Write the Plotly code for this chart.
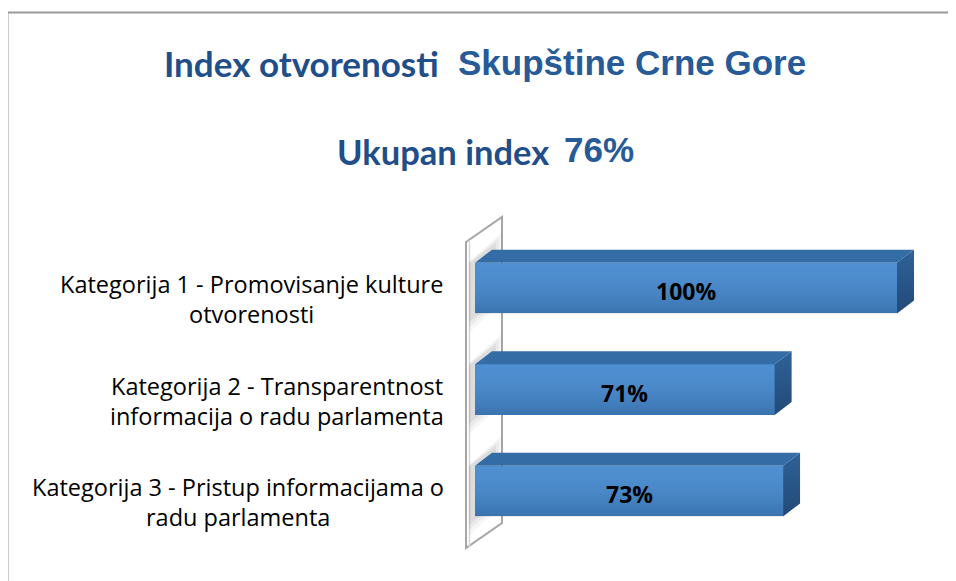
import plotly.graph_objects as go

# ---- data ----
categories = [
    "Kategorija 1 - Promovisanje kulture<br>otvorenosti",
    "Kategorija 2 - Transparentnost<br>informacija o radu parlamenta",
    "Kategorija 3 - Pristup informacijama o<br>radu parlamenta",
]
values = [1.00, 0.71, 0.73]
value_labels = ["100%", "71%", "73%"]
title_line1_a = "Index otvorenosti"
title_line1_b = "Skupštine Crne Gore"
title_line2_a = "Ukupan index"
title_line2_b = "76%"

# ---- layout geometry ----
OFF = 8                          # page body margin
W, H = 956 - OFF, 581 - OFF      # figure size


def fx(px):                      # page pixel -> figure pixel
    return px - OFF


X0_PX, X1_PX = fx(475), fx(897)  # pixel of 0 % and 100 %
Y0_PX, DY_PX = fx(288), 101.5    # pixel of first category centre, spacing
PXX = X1_PX - X0_PX
xr = [-X0_PX / PXX, (W - X0_PX) / PXX]
yr = [(H - Y0_PX) / DY_PX, -Y0_PX / DY_PX]

bw = 0.50                        # bar thickness (category units)
DX_PX, DY3_PX = 17, -13          # 3-D depth offset in pixels
dx = DX_PX / PXX
dy = DY3_PX / DY_PX

CAL = "Lato"
LAB = "Open Sans"
ARI = "Liberation Sans"
BLUE1 = "#1F4E89"
BLUE2 = "#275B98"

fig = go.Figure()
ys = list(range(len(categories)))

# front faces (bars)
fig.add_trace(go.Bar(
    x=values, y=ys, orientation="h", width=bw,
    marker=dict(color="#4388CF", line=dict(width=0)),
    hoverinfo="skip", showlegend=False,
))

for i, v in enumerate(values):
    top = i - bw / 2
    bot = i + bw / 2
    fig.add_trace(go.Scatter(
        x=[0, v, v, 0, 0], y=[top, top, bot, bot, top],
        mode="lines", line=dict(width=0), fill="toself",
        fillgradient=dict(type="vertical", start=top, stop=bot,
                          colorscale=[[0, "rgba(255,255,255,0.06)"],
                                      [1, "rgba(0,0,0,0.15)"]]),
        hoverinfo="skip", showlegend=False,
    ))
    fig.add_trace(go.Scatter(
        x=[0, v, v + dx, dx, 0], y=[top, top, top + dy, top + dy, top],
        mode="lines", line=dict(width=0), fill="toself",
        fillcolor="#346DA6", hoverinfo="skip", showlegend=False,
    ))
    fig.add_trace(go.Scatter(
        x=[v, v + dx, v + dx, v, v], y=[top, top + dy, bot + dy, bot, top],
        mode="lines", line=dict(width=0), fill="toself",
        fillgradient=dict(type="vertical", start=top + dy, stop=bot,
                          colorscale=[[0, "#2F6298"], [1, "#224A77"]]),
        hoverinfo="skip", showlegend=False,
    ))

# ---- side wall ----
wx0 = -9 / PXX
wx1 = 27 / PXX
wtop = -46 / DY_PX
wbot = wtop + (548 - 242) / DY_PX
wdy = -25 / DY_PX
shapes = [
    dict(type="rect", xref="paper", yref="paper",
         x0=fx(7.5) / W, x1=1.05, y0=-0.05, y1=1 - fx(12.5) / H,
         line=dict(color="#999999", width=2), fillcolor="rgba(0,0,0,0)",
         layer="below"),
    dict(type="path", xref="x", yref="y", layer="below",
         path=(f"M {wx0},{wtop} L {wx1},{wtop + wdy} L {wx1},{wbot + wdy} "
               f"L {wx0},{wbot} Z"),
         fillcolor="#FFFFFF", line=dict(color="#A6A6A6", width=2)),
    dict(type="line", xref="x", yref="y", layer="below",
         x0=wx0 + 3.5 / PXX, x1=wx0 + 3.5 / PXX,
         y0=wtop - 2 / DY_PX, y1=wbot - 1 / DY_PX,
         line=dict(color="#D8D8D8", width=1.5)),
]

# soft shadows of the bars on the wall
slope = DY3_PX / DX_PX
for i in ys:
    top_px = (i - bw / 2) * DY_PX
    bot_px = (i + bw / 2) * DY_PX
    for e, a in [(10, 0.035), (7, 0.045), (4, 0.06)]:
        xl, xrr = -e - 2, DX_PX + e
        pts = [
            (xl, top_px - e + slope * xl),
            (xrr, top_px - e + slope * xrr),
            (xrr, bot_px + e + slope * xrr),
            (xl, bot_px + e + slope * xl),
        ]
        # keep inside the wall
        pts = [(max(px_, -6), py_) for px_, py_ in pts]
        path = "M " + " L ".join(f"{px_ / PXX},{py_ / DY_PX}" for px_, py_ in pts) + " Z"
        shapes.append(dict(type="path", xref="x", yref="y", layer="below",
                           path=path, fillcolor=f"rgba(0,0,0,{a})",
                           line=dict(width=0)))

annotations = []
# value labels
for i, (v, t) in enumerate(zip(values, value_labels)):
    annotations.append(dict(
        x=v / 2, y=i, xref="x", yref="y", yshift=-3, text=t,
        showarrow=False, xanchor="center", yanchor="middle",
        font=dict(family=LAB, size=23, color="#000000", weight="bold"),
    ))

block_centres = [251.5, 277, 238]
for i, (lab, cx) in enumerate(zip(categories, block_centres)):
    for j, ln in enumerate(lab.split("<br>")):
        annotations.append(dict(
            x=fx(cx) / W, xref="paper", y=i, yref="y", yshift=4 - 30 * j,
            text=ln, showarrow=False, xanchor="center", yanchor="middle",
            font=dict(family=LAB, size=23.5, color="#000000"),
        ))


def title_part(text, px, py, anchor, family, size, color):
    return dict(x=fx(px) / W, y=1 - fx(py) / H, xref="paper", yref="paper",
                xanchor=anchor, yanchor="middle", showarrow=False, text=text,
                font=dict(family=family, size=size, color=color, weight="bold"))


annotations += [
    title_part(title_line1_a, 441, 63, "right", CAL, 35, BLUE1),
    title_part(title_line1_b, 456, 63, "left", ARI, 35, BLUE2),
    title_part(title_line2_a, 551, 151, "right", CAL, 34.5, BLUE1),
    title_part(title_line2_b, 562, 150, "left", ARI, 35, BLUE2),
]

fig.update_layout(
    width=W, height=H,
    margin=dict(l=0, r=0, t=0, b=0),
    paper_bgcolor="#FFFFFF", plot_bgcolor="#FFFFFF",
    xaxis=dict(range=xr, visible=False, fixedrange=True),
    yaxis=dict(range=yr, visible=False, fixedrange=True),
    shapes=shapes, annotations=annotations,
    bargap=0, showlegend=False,
)

fig.write_html("out.html")
